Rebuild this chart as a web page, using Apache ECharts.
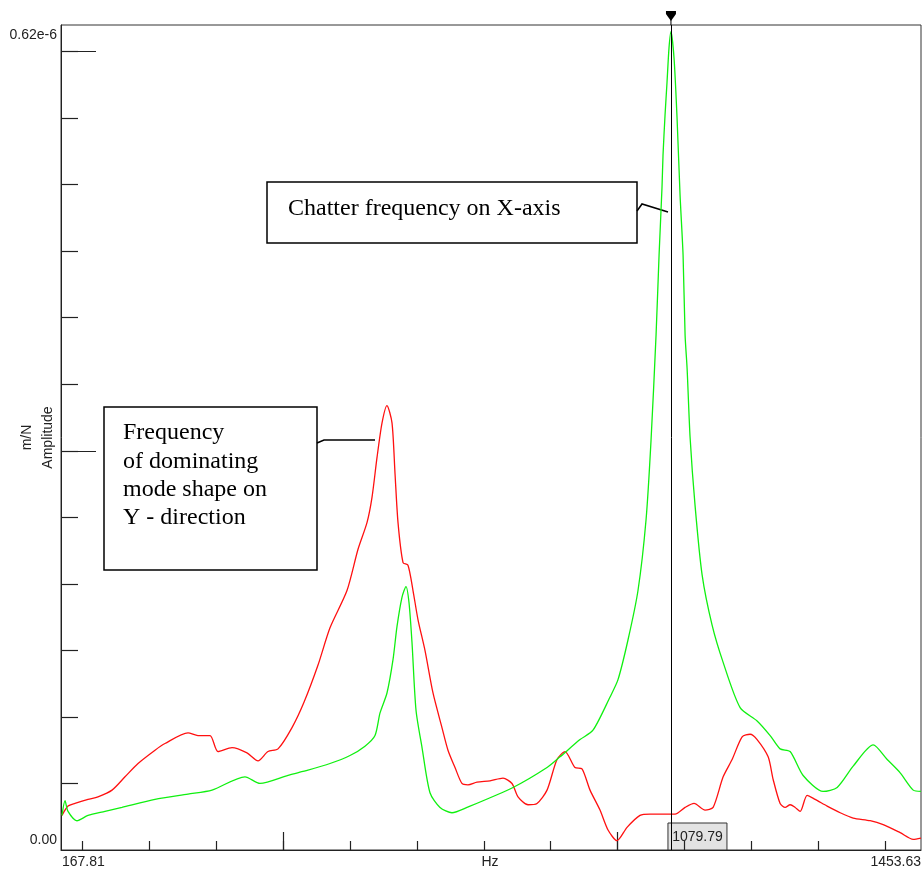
<!DOCTYPE html>
<html><head><meta charset="utf-8">
<script src="https://cdn.jsdelivr.net/npm/echarts@6/dist/echarts.min.js"></script>
<style>html,body{margin:0;padding:0;background:#fff}#c{width:923px;height:871px}</style>
</head><body><div id="c"></div>
<script>
// ---- axis settings / tick values ----
const xMin = 167.81, xMax = 1453.63;
const yMin = 0, yMax = 0.62;           // in units of 1e-6 m/N
const xMinorTicks = [200,300,400,500,600,700,800,900,1000,1100,1200,1300,1400];
const xMajorTicks = [500,1000];
const yMinorTicks = [0.05,0.1,0.15,0.2,0.25,0.3,0.35,0.4,0.45,0.5,0.55,0.6];
const yMajorTicks = [0.3,0.6];
const xEndLabels = ['167.81','1453.63'];
const yEndLabels = ['0.00','0.62e-6'];
const xName = 'Hz';
const yName = ['m/N','Amplitude'];
const cursorHz = 1079.79;
const cursorLabel = '1079.79';
const note1 = ['Chatter frequency on X-axis'];
const note2 = ['Frequency','of dominating','mode shape on','Y - direction'];

// ---- green series (X-axis FRF) ----
const greenHz = [169.3,173.8,178.3,191.7,208.2,233.6,259.0,308.4,357.7,393.6,442.9,465.3,507.2,529.6,570.0,599.9,622.3,637.3,644.8,655.2,664.2,670.2,677.7,683.6,688.1,692.6,698.6,707.6,719.5,734.5,752.4,774.8,843.6,894.5,913.9,943.8,963.2,988.7,1000.6,1015.6,1030.5,1042.5,1050.0,1057.5,1062.0,1066.4,1067.9,1070.9,1073.9,1076.9,1079.8,1084.4,1088.9,1093.4,1097.9,1100.9,1103.9,1108.4,1115.8,1126.3,1141.3,1157.8,1183.2,1208.6,1228.1,1243.0,1258.0,1277.4,1307.3,1328.3,1352.2,1382.1,1403.1,1422.5,1442.0,1453.6];
const greenAmp = [0.026,0.037,0.029,0.022,0.026,0.029,0.032,0.038,0.042,0.045,0.055,0.050,0.056,0.059,0.065,0.071,0.078,0.086,0.103,0.118,0.143,0.168,0.190,0.198,0.186,0.156,0.105,0.077,0.043,0.032,0.028,0.032,0.047,0.062,0.070,0.083,0.090,0.115,0.128,0.158,0.195,0.248,0.308,0.387,0.447,0.498,0.522,0.552,0.577,0.603,0.615,0.595,0.550,0.492,0.447,0.387,0.362,0.310,0.259,0.207,0.169,0.141,0.107,0.097,0.086,0.076,0.074,0.056,0.044,0.047,0.063,0.079,0.068,0.058,0.045,0.044];

// ---- red series (Y-direction FRF) ----
const redHz = [169.3,178.3,188.7,208.2,223.1,244.1,263.5,283.0,308.4,323.3,357.7,372.6,390.6,402.5,423.5,445.9,462.4,477.3,492.3,513.2,531.1,552.1,570.0,595.4,611.9,625.3,632.8,640.3,647.8,655.2,662.7,667.2,671.7,679.2,686.6,694.1,701.6,712.0,724.0,737.4,746.4,756.9,767.3,776.3,789.8,809.2,828.7,842.1,851.1,866.1,879.5,894.5,909.4,921.4,936.3,946.8,958.8,973.7,985.7,999.1,1014.1,1033.5,1048.5,1085.9,1100.9,1114.3,1130.8,1142.8,1157.8,1171.2,1186.2,1198.1,1208.6,1225.1,1232.6,1243.0,1250.5,1258.0,1265.5,1273.0,1283.4,1295.4,1313.3,1332.8,1352.2,1377.6,1397.1,1422.5,1442.0,1453.6];
const redAmp = [0.026,0.033,0.035,0.038,0.040,0.045,0.055,0.065,0.075,0.080,0.088,0.086,0.086,0.074,0.077,0.073,0.067,0.074,0.076,0.092,0.111,0.139,0.167,0.195,0.226,0.246,0.265,0.295,0.321,0.334,0.321,0.283,0.246,0.216,0.214,0.195,0.173,0.150,0.118,0.092,0.075,0.062,0.050,0.049,0.051,0.052,0.054,0.050,0.040,0.034,0.035,0.045,0.068,0.074,0.062,0.061,0.045,0.030,0.015,0.007,0.017,0.026,0.027,0.027,0.032,0.035,0.030,0.032,0.055,0.068,0.085,0.087,0.083,0.070,0.053,0.035,0.032,0.034,0.032,0.029,0.041,0.038,0.033,0.028,0.024,0.022,0.019,0.013,0.008,0.009];

const SANS = 'Liberation Sans', SERIF = 'Liberation Serif';
const AX = '#222';
const chart = echarts.init(document.getElementById('c'), null, {renderer:'canvas'});

function xAxisDef(ticks, len, showLine){
  return {type:'value', min:xMin, max:xMax, position:'bottom', gridIndex:0,
    axisLine:{show:showLine, onZero:false, lineStyle:{color:AX,width:1}},
    axisTick:{show:true, inside:true, length:len, customValues:ticks, lineStyle:{color:AX,width:1.2}},
    axisLabel:{show:false}, splitLine:{show:false}};
}
function yAxisDef(ticks, len, showLine){
  return {type:'value', min:yMin, max:yMax, position:'left', gridIndex:0,
    axisLine:{show:showLine, onZero:false, lineStyle:{color:AX,width:1}},
    axisTick:{show:true, inside:true, length:len, customValues:ticks, lineStyle:{color:AX,width:1.2}},
    axisLabel:{show:false}, splitLine:{show:false}};
}

chart.setOption({
  animation:false,
  backgroundColor:'#fff',
  grid:{left:61, top:25, width:860, height:825, show:true, borderColor:'#333', borderWidth:1, containLabel:false, outerBoundsMode:'none'},
  xAxis:[xAxisDef(xMinorTicks,9,true), xAxisDef(xMajorTicks,18,false)],
  yAxis:[yAxisDef(yMinorTicks,17,true), yAxisDef(yMajorTicks,35,false)],
  series:[
    {type:'line', name:'Y', data:redHz.map((h,i)=>[h,redAmp[i]]), showSymbol:false, symbol:'none',
     smooth:0.25,
     lineStyle:{color:'#ff1010', width:1.3}, itemStyle:{color:'#ff1010'}, z:2},
    {type:'line', name:'X', data:greenHz.map((h,i)=>[h,greenAmp[i]]), showSymbol:false, symbol:'none',
     smooth:0.25,
     lineStyle:{color:'#10f010', width:1.3}, itemStyle:{color:'#10f010'}, z:3,
     markLine:{silent:true, symbol:['none','none'], label:{show:false},
       lineStyle:{color:'#000', width:1, type:'solid'}, data:[{xAxis:cursorHz}]}}
  ]
});

const cx = chart.convertToPixel({xAxisIndex:0}, cursorHz);
const y0 = chart.convertToPixel({yAxisIndex:0}, yMin);
const yTop = chart.convertToPixel({yAxisIndex:0}, yMax);
const xL = chart.convertToPixel({xAxisIndex:0}, xMin);
const xR = chart.convertToPixel({xAxisIndex:0}, xMax);
const tStyle = (extra)=>Object.assign({fontFamily:SANS, fontSize:14, fill:'#222'}, extra);

const g = [
  {type:'text', x:xL-4, y:yTop+10, style:tStyle({text:yEndLabels[1], align:'right', verticalAlign:'middle'})},
  {type:'text', x:xL-4, y:y0-10, style:tStyle({text:yEndLabels[0], align:'right', verticalAlign:'middle'})},
  {type:'text', x:xL+1, y:y0+12, style:tStyle({text:xEndLabels[0], align:'left', verticalAlign:'middle'})},
  {type:'text', x:xR, y:y0+12, style:tStyle({text:xEndLabels[1], align:'right', verticalAlign:'middle'})},
  {type:'text', x:490, y:y0+12, style:tStyle({text:xName, align:'center', verticalAlign:'middle'})},
  {type:'text', x:38, y:(y0+yTop)/2, rotation:Math.PI/2,
   style:tStyle({text:yName.join('\n'), align:'center', verticalAlign:'middle', lineHeight:21})},
  // cursor
  {type:'line', shape:{x1:cx, y1:11, x2:cx, y2:yTop}, style:{stroke:'#000', lineWidth:1}},
  {type:'polygon', shape:{points:[[cx-5,11],[cx+5,11],[cx+5,14],[cx,21],[cx-5,14]]}, style:{fill:'#000'}},
  {type:'rect', shape:{x:cx-3, y:y0-27, width:59, height:27}, style:{fill:'#e3e3e3', stroke:'#333', lineWidth:1}},
  {type:'text', x:cx-3+29.5, y:y0-13, style:tStyle({text:cursorLabel, align:'center', verticalAlign:'middle'})},
  // note 1
  {type:'rect', shape:{x:267, y:182, width:370, height:61}, style:{fill:'#fff', stroke:'#000', lineWidth:1.5}},
  {type:'text', x:288, y:209, style:{text:note1[0], fontFamily:SERIF, fontSize:24, fill:'#000', verticalAlign:'middle'}},
  {type:'polyline', shape:{points:[[637,211],[642,204],[668,212]]}, style:{stroke:'#000', lineWidth:1.5, fill:null}},
  // note 2
  {type:'rect', shape:{x:104, y:407, width:213, height:163}, style:{fill:'#fff', stroke:'#000', lineWidth:1.5}},
  {type:'polyline', shape:{points:[[317,443],[324,440],[375,440]]}, style:{stroke:'#000', lineWidth:1.5, fill:null}}
];
const note2Y = [433,462,490,518];
note2.forEach((t,i)=>g.push({type:'text', x:123, y:note2Y[i], style:{text:t, fontFamily:SERIF, fontSize:24, fill:'#000', verticalAlign:'middle'}}));
chart.setOption({graphic:g});
</script></body></html>
